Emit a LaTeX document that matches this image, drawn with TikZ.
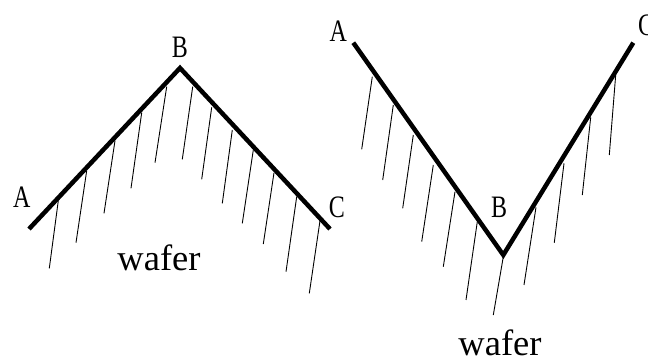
\documentclass[tikz,border=0pt]{standalone}
\usepackage{fontspec}
\setmainfont{Liberation Serif}
\newcommand{\tallcap}[1]{\scalebox{1}[1.3]{#1}}
\begin{document}
\begin{tikzpicture}[x=1pt,y=-1pt,
  surface/.style={line width=4.5pt, line join=miter, line cap=butt},
  hatch/.style={line width=0.9pt},
  lbl/.style={font=\fontsize{24}{24}\selectfont, inner sep=0pt},
  wlbl/.style={font=\fontsize{36.5}{36.5}\selectfont, inner sep=0pt, anchor=base}]
\useasboundingbox (0,0) rectangle (648,358);
% left figure
\coordinate (lA) at (29,229);
\coordinate (lB) at (180,68);
\coordinate (lC) at (330,229);
\draw[surface] (lA) -- (lB) -- (lC);
\foreach \x/\y/\u/\v in {58.3/200.7/49.3/268.3, 86.7/170.7/76/242.7, 115/140.7/104/213.3,
  141.7/112.7/131/188.3, 166.7/86.7/155/162.7, 192.7/86.7/182.3/159.3,
  211.7/107.3/201.7/179.3, 232.3/130/222.3/203.3, 253.3/150/242.3/223.3,
  274/172.7/263.3/244, 296.7/196.7/286/271.7, 320/220.7/309.3/293.3}
  \draw[hatch] (\x,\y) -- (\u,\v);
\node[lbl] (lAl) at (21.7,197.7) {\tallcap{A}};
\node[lbl] (lBl) at (180,47.5) {\tallcap{B}};
\node[lbl] (lCl) at (337,207) {\tallcap{C}};
\node[wlbl] (lw) at (159,270) {wafer};
% right figure
\coordinate (rA) at (353.3,42.7);
\coordinate (rB) at (503.3,255);
\coordinate (rC) at (633.3,42.7);
\draw[surface] (rA) -- (rB) -- (rC);
\foreach \x/\y/\u/\v in {372.3/76.7/361.7/149.3, 393.3/105/382.7/180, 413.3/135/402.7/208.3,
  433.3/165/421.7/241.7, 455/191.7/443.3/266.7, 477.3/221.7/466/300,
  503.3/256.7/493.3/315, 536/207.3/524/285, 564/163.3/554.3/242.7,
  590.7/117.3/582.3/195, 615.7/75/609.3/155}
  \draw[hatch] (\x,\y) -- (\u,\v);
\node[lbl] (rAl) at (338.3,31.7) {\tallcap{A}};
\node[lbl] (rBl) at (499,207.5) {\tallcap{B}};
\node[lbl] (rCl) at (646,25) {\tallcap{C}};
\node[wlbl] (rw) at (500,355) {wafer};
\end{tikzpicture}
\end{document}
